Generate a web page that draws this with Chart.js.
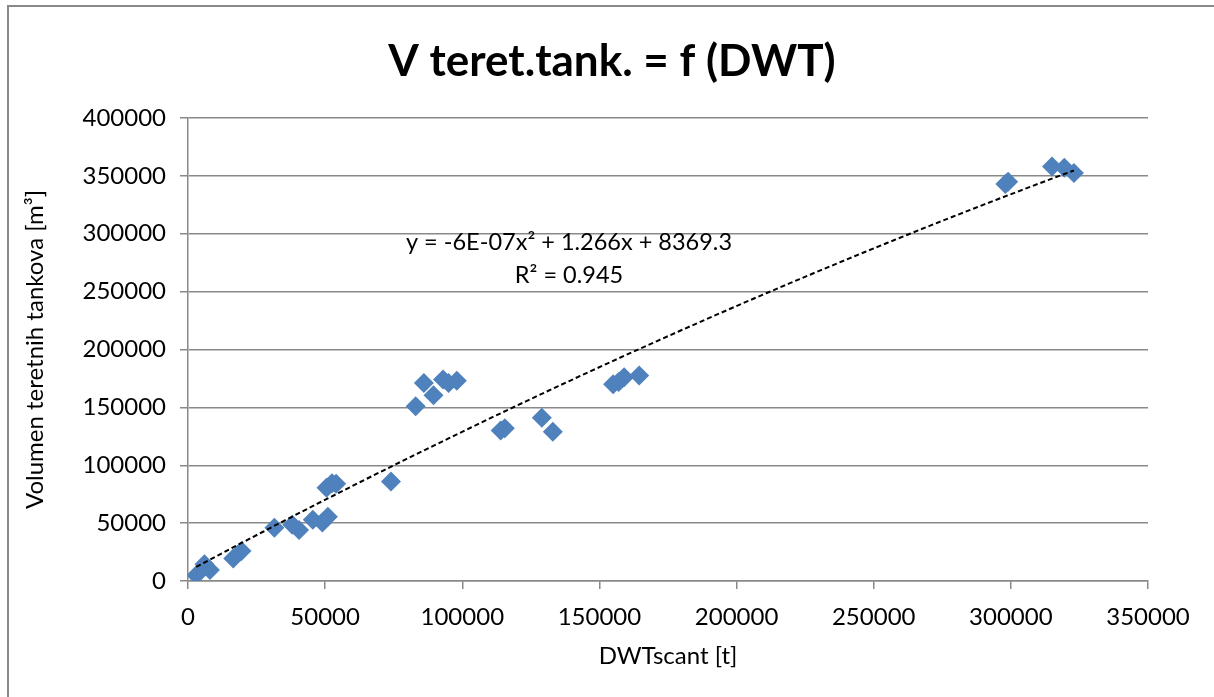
<!DOCTYPE html>
<html>
<head>
<meta charset="utf-8">
<script src="https://cdn.jsdelivr.net/npm/chart.js@4.4.1/dist/chart.umd.min.js"></script>
<style>
  html, body { margin: 0; padding: 0; background: #fff; }
  #wrap { width: 1214px; height: 697px; }
</style>
</head>
<body>
<div id="wrap"><canvas id="scatter" width="1214" height="697"></canvas></div>
<script>
// DWT (t) of each tanker and volume of its cargo tanks (m³)
const dwt = [
  3000, 6000, 8000, 16500, 19500, 31500, 38000, 40500, 45500, 49000,
  51000, 50500, 52500, 54000, 74000, 83000, 86000, 89500, 93000, 95000,
  98000, 114000, 115500, 129000, 133000, 155000, 157000, 159000, 164500,
  298000, 299000, 315000, 319500, 323000
];
const volume = [
  5000, 14500, 9500, 19500, 26000, 46000, 48500, 44000, 53000, 50500,
  55500, 80500, 84500, 84000, 86000, 151000, 171000, 160500, 174000, 171000,
  173000, 130000, 132000, 141000, 129000, 170000, 172000, 176000, 177500,
  343000, 345000, 358000, 357000, 352500
];

// polynomial trendline: a·x² + b·x + c
const trendCoef = [-6e-7, 1.266, 8369.3];
const trendLabel = ['y = -6E-07x² + 1.266x + 8369.3', 'R² = 0.945'];
const chartTitle = 'V teret.tank. = f (DWT)';

const xTicks = [0, 50000, 100000, 150000, 200000, 250000, 300000, 350000];
const yTicks = [0, 50000, 100000, 150000, 200000, 250000, 300000, 350000, 400000];

const points = dwt.map((x, i) => ({ x: x, y: volume[i] }));

const xMin = Math.min(...dwt), xMax = Math.max(...dwt);
const trend = [];
for (let i = 0; i <= 80; i++) {
  const x = xMin + (xMax - xMin) * i / 80;
  trend.push({ x: x, y: trendCoef[0] * x * x + trendCoef[1] * x + trendCoef[2] });
}

const gridGray = '#898989';
const font = 'Lato, "Open Sans", sans-serif';

// white background, outer frame, title and the trendline equation
const extras = {
  id: 'extras',
  beforeDraw(chart) {
    const c = chart.ctx;
    c.save();
    c.fillStyle = '#fff';
    c.fillRect(0, 0, chart.width, chart.height);
    c.restore();
  },
  afterDraw(chart) {
    const c = chart.ctx;
    c.save();
    c.strokeStyle = gridGray;
    c.lineWidth = 2;
    c.beginPath();
    c.moveTo(8, chart.height + 5);
    c.lineTo(8, 6);
    c.lineTo(chart.width + 5, 6);
    c.stroke();

    c.fillStyle = '#000';
    c.textAlign = 'center';
    c.textBaseline = 'middle';
    c.font = 'bold 44px ' + font;
    c.fillText(chartTitle, 612, 62);

    c.font = '23.5px ' + font;
    c.fillText(trendLabel[0], 569, 242);
    c.fillText(trendLabel[1], 569, 275);
    c.restore();
  }
};

new Chart(document.getElementById('scatter'), {
  type: 'scatter',
  data: {
    datasets: [
      {
        label: 'Trend',
        type: 'line',
        data: trend,
        borderColor: '#000',
        borderWidth: 2,
        borderDash: [5, 3],
        pointRadius: 0,
        fill: false,
        tension: 0,
        order: 0
      },
      {
        label: 'V',
        data: points,
        pointStyle: 'rectRot',
        pointRadius: 10,
        pointHoverRadius: 10,
        backgroundColor: '#4F81BD',
        borderColor: '#4F81BD',
        borderWidth: 0,
        order: 1
      }
    ]
  },
  options: {
    responsive: false,
    animation: false,
    layout: { padding: { left: 0, right: 66, top: 118, bottom: 0 } },
    plugins: {
      legend: { display: false },
      tooltip: { enabled: false },
      title: { display: false }
    },
    scales: {
      x: {
        type: 'linear',
        min: 0,
        max: 350000,
        afterBuildTicks(scale) { scale.ticks = xTicks.map(v => ({ value: v })); },
        afterFit(scale) { scale.height = 116; },
        grid: { drawOnChartArea: false, drawTicks: true, tickLength: 8, color: gridGray, lineWidth: 1.5 },
        border: { display: true, color: gridGray, width: 1.5 },
        ticks: { color: '#000', font: { family: font, size: 24 }, padding: 14, maxRotation: 0,
                 callback: v => String(v) },
        title: { display: true, text: 'DWTscant [t]', color: '#000',
                 font: { family: font, size: 24 }, padding: { top: 0, bottom: 26 } }
      },
      y: {
        type: 'linear',
        min: 0,
        max: 400000,
        afterBuildTicks(scale) { scale.ticks = yTicks.map(v => ({ value: v })); },
        afterFit(scale) { scale.width = 188; },
        grid: { drawOnChartArea: true, drawTicks: true, tickLength: 8, color: gridGray, lineWidth: 1.5 },
        border: { display: true, color: gridGray, width: 1.5 },
        ticks: { color: '#000', font: { family: font, size: 24 }, padding: 14,
                 callback: v => String(v) },
        title: { display: true, text: 'Volumen teretnih tankova [m³]', color: '#000',
                 font: { family: font, size: 24 }, padding: { top: 21, bottom: 0 } }
      }
    }
  },
  plugins: [extras]
});
</script>
</body>
</html>
